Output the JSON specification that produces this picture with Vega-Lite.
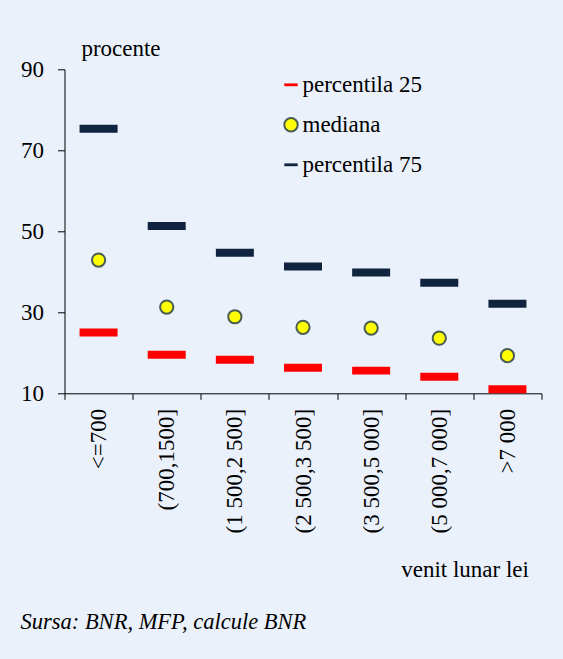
{
  "$schema": "https://vega.github.io/schema/vega-lite/v6.json",
  "width": 477,
  "height": 324,
  "autosize": "none",
  "padding": {"left": 64.5, "top": 69.3, "right": 21.5, "bottom": 265.7},
  "background": "#EAF1FB",
  "title": {
    "text": "Sursa: BNR, MFP, calcule BNR",
    "orient": "bottom",
    "anchor": "start",
    "frame": "bounds",
    "font": "Liberation Serif",
    "fontStyle": "italic",
    "fontWeight": "normal",
    "fontSize": 22.5,
    "color": "#000000",
    "offset": 29
  },
  "data": {
    "values": [
      {"cat": "<=700", "series": "percentila 25", "value": 25.0},
      {"cat": "(700,1500]", "series": "percentila 25", "value": 19.5},
      {"cat": "(1 500,2 500]", "series": "percentila 25", "value": 18.3},
      {"cat": "(2 500,3 500]", "series": "percentila 25", "value": 16.3},
      {"cat": "(3 500,5 000]", "series": "percentila 25", "value": 15.6},
      {"cat": "(5 000,7 000]", "series": "percentila 25", "value": 14.1},
      {"cat": ">7 000", "series": "percentila 25", "value": 11.0},
      {"cat": "<=700", "series": "mediana", "value": 42.9},
      {"cat": "(700,1500]", "series": "mediana", "value": 31.3},
      {"cat": "(1 500,2 500]", "series": "mediana", "value": 28.9},
      {"cat": "(2 500,3 500]", "series": "mediana", "value": 26.3},
      {"cat": "(3 500,5 000]", "series": "mediana", "value": 26.1},
      {"cat": "(5 000,7 000]", "series": "mediana", "value": 23.6},
      {"cat": ">7 000", "series": "mediana", "value": 19.3},
      {"cat": "<=700", "series": "percentila 75", "value": 75.3},
      {"cat": "(700,1500]", "series": "percentila 75", "value": 51.3},
      {"cat": "(1 500,2 500]", "series": "percentila 75", "value": 44.7},
      {"cat": "(2 500,3 500]", "series": "percentila 75", "value": 41.3},
      {"cat": "(3 500,5 000]", "series": "percentila 75", "value": 39.8},
      {"cat": "(5 000,7 000]", "series": "percentila 75", "value": 37.3},
      {"cat": ">7 000", "series": "percentila 75", "value": 32.1}
    ]
  },
  "encoding": {
    "x": {
      "field": "cat",
      "type": "nominal",
      "sort": ["<=700", "(700,1500]", "(1 500,2 500]", "(2 500,3 500]", "(3 500,5 000]", "(5 000,7 000]", ">7 000"],
      "scale": {"paddingInner": 0, "paddingOuter": 0},
      "axis": {
        "title": "venit lunar lei",
        "titleFontSize": 23,
        "titleFontWeight": "normal",
        "titleColor": "#000000",
        "titleAlign": "left",
        "titleBaseline": "alphabetic",
        "titleAnchor": null,
        "titleX": 336.2,
        "titleY": 183.4,
        "labelAngle": -90,
        "labelAlign": "right",
        "labelBaseline": "middle",
        "labelFontSize": 23,
        "labelColor": "#000000",
        "labelPadding": 9,
        "tickBand": "extent",
        "tickSize": 6,
        "tickColor": "#000000",
        "domainColor": "#000000",
        "labelOverlap": false,
        "labelLimit": 0
      }
    },
    "y": {
      "field": "value",
      "type": "quantitative",
      "scale": {"domain": [10, 90], "nice": false, "zero": false},
      "axis": {
        "values": [10, 30, 50, 70, 90],
        "grid": false,
        "title": "procente",
        "titleFontSize": 23,
        "titleFontWeight": "normal",
        "titleColor": "#000000",
        "titleAngle": 0,
        "titleAlign": "left",
        "titleBaseline": "alphabetic",
        "titleAnchor": null,
        "titleX": 16.4,
        "titleY": -14.3,
        "labelFontSize": 23,
        "labelColor": "#000000",
        "labelPadding": 14,
        "tickSize": 7,
        "tickColor": "#000000",
        "domainColor": "#000000"
      }
    },
    "color": {
      "field": "series",
      "type": "nominal",
      "scale": {
        "domain": ["percentila 25", "mediana", "percentila 75"],
        "range": ["#FF0000", "#FFFF00", "#10243F"]
      },
      "legend": {
        "title": null,
        "orient": "none",
        "legendX": 215,
        "legendY": 4,
        "labelFontSize": 23,
        "labelColor": "#000000",
        "labelOffset": 0,
        "rowPadding": 16,
        "symbolSize": 180,
        "symbolStrokeWidth": 2,
        "padding": 0
      }
    },
    "shape": {
      "field": "series",
      "type": "nominal",
      "scale": {
        "domain": ["percentila 25", "mediana", "percentila 75"],
        "range": ["M-1,-0.21H1V0.21H-1Z", "circle", "M-1,-0.21H1V0.21H-1Z"]
      },
      "legend": {"title": null, "orient": "none", "legendX": 215, "legendY": 4}
    },
    "stroke": {
      "field": "series",
      "type": "nominal",
      "scale": {
        "domain": ["percentila 25", "mediana", "percentila 75"],
        "range": ["transparent", "#4B5D52", "transparent"]
      },
      "legend": {"title": null, "orient": "none", "legendX": 215, "legendY": 4}
    }
  },
  "layer": [
    {
      "transform": [{"filter": "datum.series !== 'mediana'"}],
      "mark": {"type": "point", "filled": true, "size": 1444, "strokeWidth": 0, "opacity": 1}
    },
    {
      "transform": [{"filter": "datum.series === 'mediana'"}],
      "mark": {"type": "point", "filled": true, "size": 175, "strokeWidth": 2, "opacity": 1}
    }
  ],
  "config": {
    "font": "Liberation Serif",
    "view": {"stroke": null},
    "axis": {"domainWidth": 1, "tickWidth": 1, "labelFont": "Liberation Serif", "titleFont": "Liberation Serif"},
    "legend": {"labelFont": "Liberation Serif"}
  }
}
